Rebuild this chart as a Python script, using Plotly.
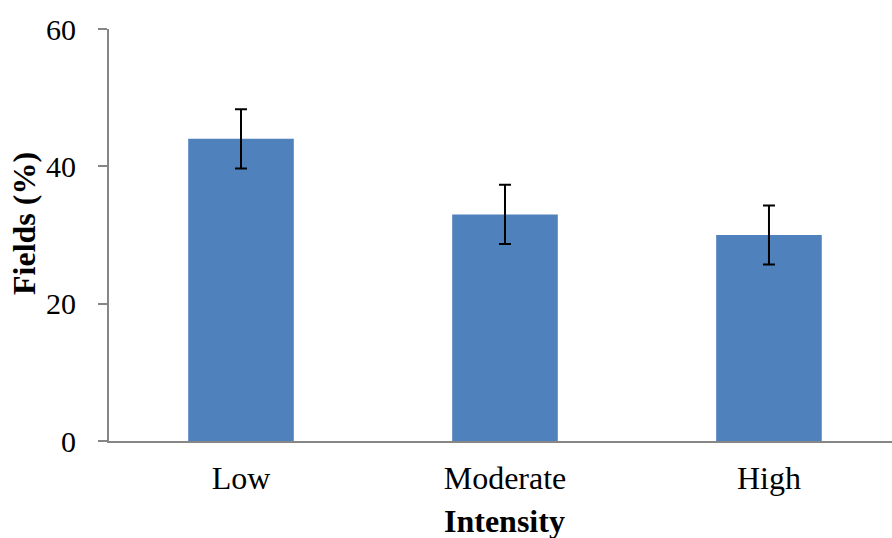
import plotly.graph_objects as go

categories = ["Low", "Moderate", "High"]
values = [44, 33, 30]
errors = [4.3, 4.3, 4.3]
y_ticks = [0, 20, 40, 60]

fig = go.Figure()
fig.add_trace(go.Bar(
    x=categories, y=values, width=0.4,
    marker=dict(color="#4F81BD", line=dict(width=0)),
    error_y=dict(type="data", array=errors, visible=True, color="black", thickness=2, width=6),
))

font_family = "Liberation Serif, Times New Roman, serif"
fig.update_layout(
    width=892, height=538,
    margin=dict(l=109, r=0, t=29, b=97),
    paper_bgcolor="white", plot_bgcolor="white",
    showlegend=False,
    font=dict(family=font_family, size=30, color="black"),
    xaxis=dict(
        range=[-0.5, 2.466], showline=True, linecolor="#868686", linewidth=2,
        ticks="", showgrid=False, zeroline=False,
        tickfont=dict(size=32), ticklabelstandoff=8,
    ),
    yaxis=dict(
        range=[0, 60], tickvals=y_ticks, showline=True, linecolor="#868686", linewidth=2,
        ticks="outside", ticklen=9, tickwidth=2, tickcolor="#868686",
        showgrid=False, zeroline=False, tickfont=dict(size=30), ticklabelstandoff=16,
    ),
    annotations=[
        dict(text="<b>Intensity</b>", x=1, xref="x", y=521, yref="paper", showarrow=False,
             font=dict(size=32), yanchor="middle", xanchor="center"),
        dict(text="<b>Fields (%)</b>", x=24, xref="paper", y=224, yref="paper", showarrow=False,
             font=dict(size=32), textangle=-90, xanchor="center", yanchor="middle"),
    ],
)
# convert pixel positions for annotations
plot_h = 538 - 29 - 97
plot_w = 892 - 109
fig.layout.annotations[0].y = (441 - 521) / plot_h
fig.layout.annotations[1].x = (24 - 109) / plot_w
fig.layout.annotations[1].y = (441 - 224) / plot_h

fig.write_html("out.html", config={"displayModeBar": False},
               post_script="document.body.style.margin='0';document.body.style.overflow='hidden';")
